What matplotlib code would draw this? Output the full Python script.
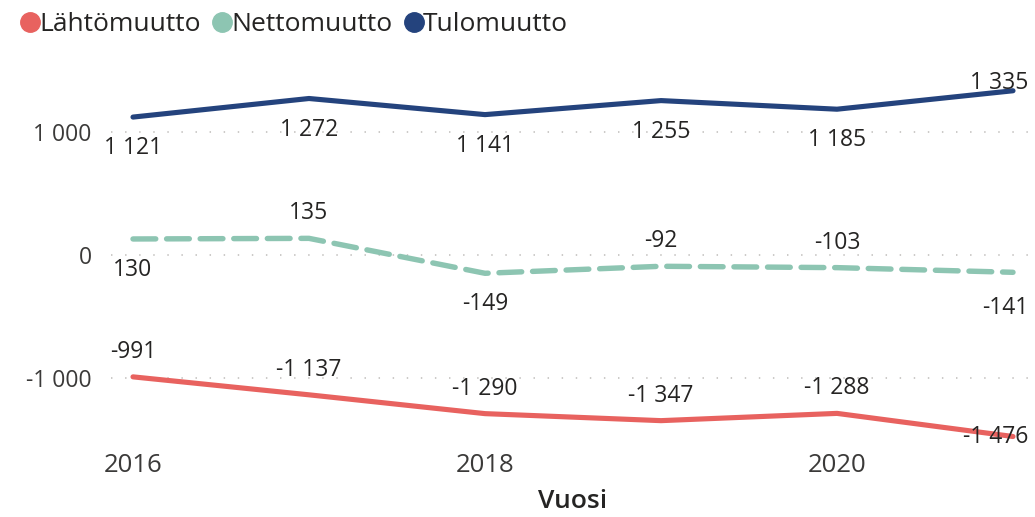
import matplotlib
matplotlib.use("Agg")
import matplotlib.pyplot as plt
from matplotlib.lines import Line2D
from matplotlib.ticker import FuncFormatter

plt.rcParams['font.family'] = ['Open Sans', 'DejaVu Sans']

years = [2016, 2017, 2018, 2019, 2020, 2021]
lahtomuutto = [-991, -1137, -1290, -1347, -1288, -1476]
nettomuutto = [130, 135, -149, -92, -103, -141]
tulomuutto = [1121, 1272, 1141, 1255, 1185, 1335]
series_names = ["Lähtömuutto", "Nettomuutto", "Tulomuutto"]
xticks = [2016, 2018, 2020]
yticks = [-1000, 0, 1000]

# label placement: 'a' above, 'b' below, 'e*' end (right aligned at edge)
pos_lahto = ['a', 'a', 'a', 'a', 'a', 'e']
pos_netto = ['b', 'a', 'b', 'a', 'a', 'eb']
pos_tulo = ['b', 'b', 'b', 'b', 'b', 'ea']

c_red = "#E8625F"
c_teal = "#8DC5B2"
c_navy = "#24437D"
txt = "#252423"
tick_c = "#3b3a39"

def fmt(v):
    s = f"{abs(int(v)):,}".replace(",", " ")
    return ("-" if v < 0 else "") + s

fig = plt.figure(figsize=(10.35, 5.17), dpi=100)
ax = fig.add_axes([111/1035, 1 - 445/517, 1 - 111/1035, (445 - 60)/517])

ax.plot(years, tulomuutto, color=c_navy, lw=3.7, solid_capstyle='round', solid_joinstyle='round', zorder=3)
ax.plot(years, nettomuutto, color=c_teal, lw=3.9, dashes=(4.2, 2.0), dash_capstyle='round', zorder=3)
ax.plot(years, lahtomuutto, color=c_red, lw=3.7, solid_capstyle='round', solid_joinstyle='round', zorder=3)

ax.set_xlim(2015.875, 2021.125)
ax.set_ylim(-1545, 1585)
ax.set_xticks(xticks)
ax.set_yticks(yticks)
ax.yaxis.set_major_formatter(FuncFormatter(lambda v, p: fmt(v)))
ax.tick_params(axis='y', length=0, labelsize=16.5, colors=tick_c, pad=14)
ax.tick_params(axis='x', length=0, labelsize=18.5, colors=tick_c, pad=6)
for s in ax.spines.values():
    s.set_visible(False)
ax.grid(axis='y', color="#C8C6C4", lw=1.3, linestyle=(0, (0.8, 7)))
ax.set_axisbelow(True)
ax.set_xlabel("Vuosi", fontsize=19, fontweight='semibold', color=txt, labelpad=8)

def label_series(vals, poses):
    for x, v, p in zip(years, vals, poses):
        if p == 'a':
            ax.annotate(fmt(v), (x, v), xytext=(0, 25), textcoords='offset pixels',
                        ha='center', va='center', fontsize=16.5, color=txt, zorder=4)
        elif p == 'b':
            ax.annotate(fmt(v), (x, v), xytext=(0, -31), textcoords='offset pixels',
                        ha='center', va='center', fontsize=16.5, color=txt, zorder=4)
        else:
            dy = 0
            if p == 'ea':
                dy = 8
            elif p == 'eb':
                dy = -36
            ax.annotate(fmt(v), (x, v), xytext=(15, dy), textcoords='offset pixels',
                        ha='right', va='center', fontsize=16.5, color=txt, zorder=4)

label_series(tulomuutto, pos_tulo)
label_series(nettomuutto, pos_netto)
label_series(lahtomuutto, pos_lahto)

handles = [Line2D([], [], marker='o', ls='', color=c, markersize=14)
           for c in (c_red, c_teal, c_navy)]
fig.legend(handles, series_names, loc='upper left', bbox_to_anchor=(-0.009, 1.023),
           ncol=3, frameon=False, fontsize=19, handletextpad=-0.25,
           columnspacing=0.2, handlelength=1.2, labelcolor=txt)

fig.savefig("out.png", dpi=100)
